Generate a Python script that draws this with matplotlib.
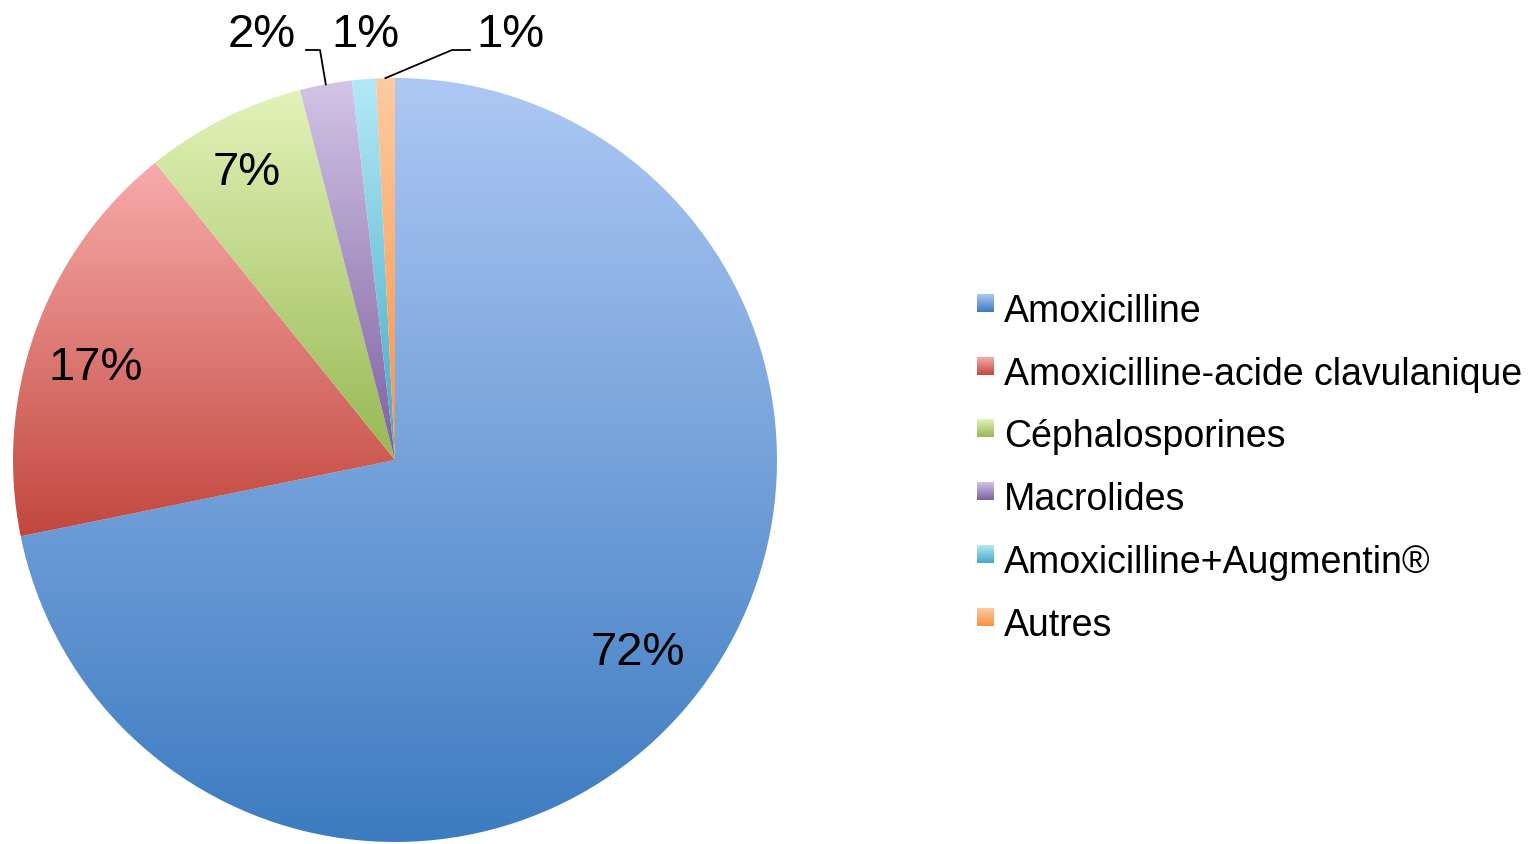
import numpy as np
import matplotlib
matplotlib.use("Agg")
import matplotlib.pyplot as plt
from matplotlib.colors import LinearSegmentedColormap

plt.rcParams['font.family'] = ['Liberation Sans', 'DejaVu Sans']

# data
labels = ["Amoxicilline", "Amoxicilline-acide clavulanique", "Céphalosporines",
          "Macrolides", "Amoxicilline+Augmentin®", "Autres"]
values = [71.8, 17.4, 6.8, 2.2, 1.0, 0.8]
top_colors = ["#adc8f4", "#f7acaa", "#e2f3b8", "#d3c4e6", "#b3e9f7", "#fdcba3"]
bottom_colors = ["#3c7bc0", "#c2473e", "#97b853", "#7d60a0", "#44a8c4", "#f69242"]

W, H = 1529, 844
cx, cy, R = 395, 460, 382

fig = plt.figure(figsize=(W / 100, H / 100), dpi=100)
ax = fig.add_axes([(cx - R) / W, (H - cy - R) / H, 2 * R / W, 2 * R / H])

wedges, _ = ax.pie(values, startangle=90, counterclock=False, radius=1,
                   colors=bottom_colors, wedgeprops=dict(linewidth=0))

# vertical gradient inside each slice
grad = np.linspace(0, 1, 256).reshape(-1, 1)
for w, c_top, c_bot in zip(wedges, top_colors, bottom_colors):
    verts = w.get_path().vertices
    y0, y1 = verts[:, 1].min(), verts[:, 1].max()
    cmap = LinearSegmentedColormap.from_list("g", [c_bot, c_top])
    im = ax.imshow(grad, cmap=cmap, origin='lower', extent=[-1, 1, y0, y1],
                   aspect='auto', interpolation='bilinear', zorder=w.get_zorder())
    im.set_clip_path(w)
    w.set_facecolor('none')

ax.set_xlim(-1, 1)
ax.set_ylim(-1, 1)
ax.set_aspect('equal')
ax.axis('off')

def px2data(px, py):
    return (px - cx) / R, (cy - py) / R

pct = ["%.0f%%" % v for v in values]

# percentage labels (pixel positions of text centres)
label_pos = [(638, 653), (96, 368), (247, 173), (262, 35), (365, 35), (510, 35)]
for i, (px, py) in enumerate(label_pos):
    x, y = px2data(px, py)
    ax.text(x, y, pct[i], fontsize=34, ha='center', va='center', clip_on=False)

# leader lines
leaders = {3: [(320, 50), (306, 50)], 5: [(452, 50), (470, 50)]}
for i, pts in leaders.items():
    w = wedges[i]
    a = np.deg2rad((w.theta1 + w.theta2) / 2)
    xs = [np.cos(a)] + [px2data(p[0], p[1])[0] for p in pts]
    ys = [np.sin(a)] + [px2data(p[0], p[1])[1] for p in pts]
    ax.plot(xs, ys, color='black', lw=1.3, clip_on=False)

# legend
for i, (lab, c_top, c_bot) in enumerate(zip(labels, top_colors, bottom_colors)):
    base = 322 + 62.7 * i
    fig.text(1004 / W, 1 - base / H, lab, fontsize=27, ha='left', va='baseline')
    sq = fig.add_axes([977 / W, 1 - (base - 28 + 18) / H, 17 / W, 18 / H])
    cmap = LinearSegmentedColormap.from_list("g", [c_bot, c_top])
    sq.imshow(grad, cmap=cmap, origin='lower', aspect='auto')
    sq.axis('off')

fig.savefig("out.png", dpi=100)
